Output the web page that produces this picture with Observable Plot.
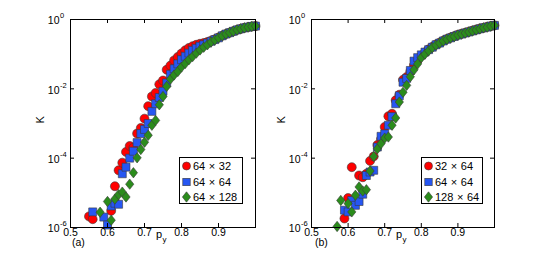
<!DOCTYPE html>
<html>
<head>
<meta charset="utf-8">
<script src="https://cdn.jsdelivr.net/npm/d3@7"></script>
<script src="https://cdn.jsdelivr.net/npm/@observablehq/plot@0.6"></script>
<style>
  html, body { margin: 0; padding: 0; background: white; }
  #wrap { position: relative; width: 545px; height: 256px; font-family: "Liberation Sans", Arial, Helvetica, sans-serif; }
  #wrap svg.plot { position: absolute; top: 0; }
  .leg { position: absolute; border: 1px solid #000; background: white; box-sizing: border-box; }
  .leg .row { position: absolute; left: 1px; height: 12px; display: flex; align-items: center; white-space: nowrap; font-size: 11px; color: #000; }
  .leg .row span { margin-left: 1px; word-spacing: 0.5px; }
</style>
</head>
<body>
<div id="wrap"></div>
<script>
// ---------- tick labels ----------
const xTicks = [0.5, 0.6, 0.7, 0.8, 0.9];
const xTickLabels = ["0.5", "0.6", "0.7", "0.8", "0.9"];
const yTicks = [1, 1e-2, 1e-4, 1e-6];
const yTickExponents = ["0", "-2", "-4", "-6"];

// ---------- series names / colours ----------
const aSeriesNames = ["64 × 32", "64 × 64", "64 × 128"];
const bSeriesNames = ["32 × 64", "64 × 64", "128 × 64"];
const seriesColors = ["#ff0000", "#2656f2", "#2b8c1c"];
const panelLabels = ["(a)", "(b)"];

// ---------- panel (a) ----------
const aRedP = [0.55,0.56,0.61,0.62,0.63,0.64,0.65,0.66,0.67,0.68,0.69,0.70,0.71,0.72,0.73,0.74,0.75,0.76,0.77,0.78,0.79,0.80,0.81,0.82,0.83,0.84,0.85,0.86,0.87,0.88,0.89,0.90,0.91,0.92,0.93,0.94,0.95,0.96,0.97,0.98,0.99,1.00];
const aRedLogK = [-5.68,-5.76,-5.52,-4.81,-4.35,-4.13,-3.82,-3.65,-3.70,-3.29,-3.13,-2.86,-2.50,-2.22,-2.12,-1.87,-1.76,-1.45,-1.33,-1.18,-1.08,-0.98,-0.89,-0.82,-0.77,-0.73,-0.70,-0.68,-0.65,-0.61,-0.57,-0.52,-0.47,-0.42,-0.38,-0.34,-0.30,-0.27,-0.24,-0.22,-0.20,-0.19];

const aBlueP = [0.56,0.59,0.60,0.61,0.62,0.63,0.64,0.65,0.66,0.67,0.68,0.69,0.70,0.71,0.72,0.73,0.74,0.75,0.76,0.77,0.78,0.79,0.80,0.81,0.82,0.83,0.84,0.85,0.86,0.87,0.88,0.89,0.90,0.91,0.92,0.93,0.94,0.95,0.96,0.97,0.98,0.99,1.00];
const aBlueLogK = [-5.55,-5.70,-5.93,-5.38,-5.30,-5.33,-4.45,-4.26,-4.00,-3.80,-3.55,-3.29,-3.17,-3.00,-2.65,-2.43,-2.25,-2.07,-1.83,-1.58,-1.42,-1.28,-1.16,-1.06,-0.97,-0.89,-0.83,-0.77,-0.73,-0.68,-0.63,-0.58,-0.53,-0.47,-0.42,-0.38,-0.34,-0.30,-0.27,-0.24,-0.22,-0.20,-0.19];

const aGreenP = [0.58,0.60,0.61,0.62,0.63,0.64,0.65,0.66,0.67,0.68,0.69,0.70,0.71,0.72,0.73,0.74,0.75,0.76,0.77,0.78,0.79,0.80,0.81,0.82,0.83,0.84,0.85,0.86,0.87,0.88,0.89,0.90,0.91,0.92,0.93,0.94,0.95,0.96,0.97,0.98,0.99,1.00];
const aGreenLogK = [-5.56,-5.25,-5.79,-5.18,-5.05,-4.98,-5.12,-4.75,-4.42,-3.99,-3.75,-3.54,-3.34,-3.05,-2.91,-2.46,-2.22,-1.93,-1.72,-1.60,-1.50,-1.37,-1.27,-1.16,-1.07,-0.97,-0.88,-0.80,-0.73,-0.65,-0.59,-0.53,-0.47,-0.42,-0.38,-0.34,-0.30,-0.27,-0.24,-0.22,-0.20,-0.19];

// ---------- panel (b) ----------
const bRedP = [0.59,0.60,0.61,0.63,0.64,0.65,0.66,0.67,0.68,0.69,0.70,0.71,0.72,0.73,0.74,0.75,0.76,0.77,0.78,0.79,0.80,0.81,0.82,0.83,0.84,0.85,0.86,0.87,0.88,0.89,0.90,0.91,0.92,0.93,0.94,0.95,0.96,0.97,0.98,0.99,1.00];
const bRedLogK = [-5.74,-5.15,-4.26,-4.50,-4.55,-4.45,-4.08,-3.95,-3.62,-3.45,-3.10,-2.79,-2.72,-2.33,-2.17,-1.74,-1.66,-1.50,-1.32,-1.18,-1.05,-0.95,-0.86,-0.79,-0.72,-0.67,-0.61,-0.56,-0.52,-0.48,-0.44,-0.41,-0.38,-0.35,-0.32,-0.29,-0.26,-0.24,-0.21,-0.19,-0.17];

const bBlueP = [0.59,0.60,0.61,0.62,0.63,0.64,0.65,0.66,0.67,0.68,0.69,0.70,0.71,0.72,0.73,0.74,0.75,0.76,0.77,0.78,0.79,0.80,0.81,0.82,0.83,0.84,0.85,0.86,0.87,0.88,0.89,0.90,0.91,0.92,0.93,0.94,0.95,0.96,0.97,0.98,0.99,1.00];
const bBlueLogK = [-5.50,-5.55,-5.22,-5.36,-5.25,-5.04,-4.50,-4.40,-4.35,-3.68,-3.37,-3.30,-3.05,-2.80,-2.43,-2.20,-1.81,-1.70,-1.47,-1.20,-1.10,-1.02,-0.94,-0.87,-0.80,-0.73,-0.68,-0.62,-0.57,-0.53,-0.49,-0.45,-0.42,-0.39,-0.36,-0.33,-0.30,-0.27,-0.24,-0.22,-0.19,-0.17];

const bGreenP = [0.57,0.58,0.60,0.61,0.62,0.63,0.64,0.65,0.66,0.67,0.68,0.69,0.70,0.71,0.72,0.73,0.74,0.75,0.76,0.77,0.78,0.79,0.80,0.81,0.82,0.83,0.84,0.85,0.86,0.87,0.88,0.89,0.90,0.91,0.92,0.93,0.94,0.95,0.96,0.97,0.98,0.99,1.00];
const bGreenLogK = [-5.97,-5.22,-5.31,-5.55,-5.07,-4.83,-4.95,-4.91,-4.37,-3.95,-3.73,-3.58,-3.42,-3.39,-3.05,-2.84,-2.38,-2.10,-1.90,-1.65,-1.45,-1.28,-1.10,-1.00,-0.90,-0.81,-0.74,-0.68,-0.62,-0.57,-0.53,-0.49,-0.45,-0.42,-0.39,-0.36,-0.33,-0.30,-0.27,-0.24,-0.22,-0.19,-0.17];

// ---------- helpers ----------
function rows(ps, logks) { return ps.map((p, i) => ({p, K: Math.pow(10, logks[i])})); }

const diamondSym = {
  draw(ctx, size) {
    const r = Math.sqrt(size / Math.PI);
    const h = r * 1.15, w = r * 0.92;
    ctx.moveTo(0, -h); ctx.lineTo(w, 0); ctx.lineTo(0, h); ctx.lineTo(-w, 0); ctx.closePath();
  }
};
const symbols = ["circle", "square", diamondSym];
const FONT = '"Liberation Sans", Arial, Helvetica, sans-serif';

function panel(series, opts) {
  const {width, marginLeft, marginRight, label, labelDx} = opts;
  const marginTop = 19, marginBottom = 29, height = 256;
  const fw = width - marginLeft - marginRight;
  const fh = height - marginTop - marginBottom;
  const marks = [];
  series.forEach((data, i) => {
    marks.push(Plot.dot(data, {x: "p", y: "K", symbol: () => symbols[i], r: 4.5,
      fill: seriesColors[i], stroke: "#3a3a3a", strokeWidth: 0.6}));
  });
  marks.push(Plot.frame({stroke: "#000", strokeWidth: 1}));
  marks.push(Plot.tickX(xTicks, {x: d => d, insetTop: fh - 4, stroke: "#000"}));
  marks.push(Plot.tickX(xTicks, {x: d => d, insetBottom: fh - 4, stroke: "#000"}));
  marks.push(Plot.tickY(yTicks, {y: d => d, insetRight: fw - 4, stroke: "#000"}));
  marks.push(Plot.tickY(yTicks, {y: d => d, insetLeft: fw - 4, stroke: "#000"}));
  marks.push(Plot.text(xTicks, {x: d => d, text: (d, i) => xTickLabels[i], frameAnchor: "bottom", dy: 8.5, fontSize: 10.5, fill: "#000"}));
  marks.push(Plot.text(yTicks, {y: d => d, text: () => "10", frameAnchor: "left", dx: -11, dy: 1.5, textAnchor: "end", fontSize: 10.5, fill: "#000"}));
  marks.push(Plot.text(yTicks, {y: d => d, text: (d, i) => yTickExponents[i], frameAnchor: "left", dx: -10.5, dy: -3.5, textAnchor: "start", fontSize: 7.5, fill: "#000"}));
  marks.push(Plot.text(["K"], {frameAnchor: "left", dx: -30, rotate: -90, fontSize: 11, fill: "#000"}));
  marks.push(Plot.text(["p"], {frameAnchor: "bottom", dx: -7, dy: 10, textAnchor: "start", fontSize: 11, fill: "#000"}));
  marks.push(Plot.text(["y"], {frameAnchor: "bottom", dx: -0.5, dy: 14, textAnchor: "start", fontSize: 8, fill: "#000"}));
  marks.push(Plot.text([label], {frameAnchor: "bottom-left", dx: labelDx, dy: 18, textAnchor: "start", fontSize: 10.5, fill: "#000"}));
  const svg = Plot.plot({
    width, height, marginLeft, marginRight, marginTop, marginBottom,
    x: {domain: [0.5, 1.0], axis: null},
    y: {type: "log", domain: [1e-6, 1], axis: null},
    style: {fontFamily: FONT, background: "transparent", overflow: "visible"},
    marks
  });
  svg.classList.add("plot");
  return svg;
}

function legend(names, left, top, w, h) {
  const box = document.createElement("div");
  box.className = "leg";
  box.style.left = left + "px"; box.style.top = top + "px";
  box.style.width = w + "px"; box.style.height = h + "px";
  const rowCenters = [8, 24, 39];
  const shapes = [
    c => `<circle cx="5.5" cy="6" r="4" fill="${c}" stroke="#3a3a3a" stroke-width="0.6"/>`,
    c => `<rect x="1.8" y="2.3" width="7.4" height="7.4" fill="${c}" stroke="#3a3a3a" stroke-width="0.6"/>`,
    c => `<path d="M5.5,0.8L9.6,6L5.5,11.2L1.4,6Z" fill="${c}" stroke="#3a3a3a" stroke-width="0.6"/>`
  ];
  names.forEach((n, i) => {
    const row = document.createElement("div");
    row.className = "row";
    row.style.top = (rowCenters[i] - 6) + "px";
    row.innerHTML = `<svg width="11" height="12" style="overflow:visible">${shapes[i](seriesColors[i])}</svg><span>${n}</span>`;
    box.appendChild(row);
  });
  return box;
}

const wrap = document.getElementById("wrap");
const svgA = panel([rows(aRedP, aRedLogK), rows(aBlueP, aBlueLogK), rows(aGreenP, aGreenLogK)],
  {width: 272, marginLeft: 70, marginRight: 17, label: panelLabels[0], labelDx: 1.5});
svgA.style.left = "0px";
wrap.appendChild(svgA);
const svgB = panel([rows(bRedP, bRedLogK), rows(bBlueP, bBlueLogK), rows(bGreenP, bGreenLogK)],
  {width: 273, marginLeft: 39, marginRight: 51, label: panelLabels[1], labelDx: 3.5});
svgB.style.left = "272px";
wrap.appendChild(svgB);
wrap.appendChild(legend(aSeriesNames, 179, 157, 64, 47));
wrap.appendChild(legend(bSeriesNames, 421, 157, 62, 47));
</script>
</body>
</html>
